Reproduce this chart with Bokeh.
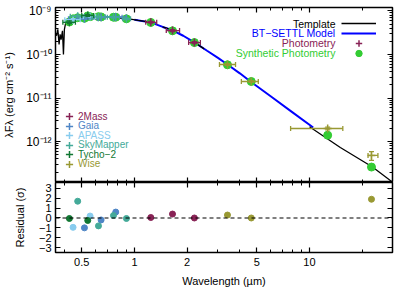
from bokeh.plotting import figure
from bokeh.models import (ColumnDataSource, Whisker, TeeHead, Span, Label, Legend,
                          LegendItem, FixedTicker, LogAxis, LinearAxis,
                          CustomJSTickFormatter, Range1d)
from bokeh.layouts import column
from bokeh.embed import file_html
from bokeh.resources import INLINE

FONT = "Liberation Sans"
nan = float("nan")

# ---------------- data ----------------
template_wl = [0.355, 0.359, 0.365, 0.371, 0.376, 0.381, 0.388, 0.393, 0.398, 0.405,
               0.42, 0.45, 0.50, 0.55, 0.60, 0.65, 0.70, 0.75, 0.80, 0.85, 0.87, 0.89,
               0.95, 1.05, 1.15, 1.25, 1.30, nan, 1.45, 1.55, 1.65, 1.75, nan,
               2.1, 2.2, 2.35, 2.5, nan, 10.0, 15.0, 22.9, 30.0]
template_flux = [3.0e-10, 2.7e-10, 3.8e-10, 1.7e-10, 2.9e-10, 2.2e-10, 3.5e-10, 1.0e-10, 3.8e-10, 5.4e-10,
                 5.8e-10, 6.5e-10, 7.0e-10, 7.3e-10, 7.4e-10, 7.4e-10, 7.3e-10, 7.2e-10, 7.0e-10, 6.8e-10, 5.8e-10, 6.7e-10,
                 6.5e-10, 6.1e-10, 5.8e-10, 5.4e-10, 5.1e-10, nan, 4.3e-10, 3.95e-10, 3.6e-10, 3.2e-10, nan,
                 2.1e-10, 1.9e-10, 1.6e-10, 1.35e-10, nan, 2.2e-12, 7.3e-13, 2.6e-13, 1.15e-13]

model_wl = [1.0, 1.25, 1.45, 1.65, 1.9, 2.2, 2.6, 3.0, 3.4, 4.0, 4.6, 6.0, 8.0, 10.5]
model_flux = [6.3e-10, 5.4e-10, 4.3e-10, 3.6e-10, 2.7e-10, 1.9e-10, 1.22e-10, 8.4e-11,
              5.9e-11, 3.7e-11, 2.4e-11, 1.1e-11, 4.7e-12, 2.1e-12]

survey_names = ["2Mass", "Gaia", "APASS", "SkyMapper", "Tycho\u22122", "Wise"]
survey_colors = ["#882255", "#4f86c6", "#88ccee", "#44aa99", "#117733", "#999933"]

tmass_wl = [1.24, 1.65, 2.2]
tmass_lo = [1.16, 1.52, 2.04]
tmass_hi = [1.34, 1.81, 2.38]
tmass_flux = [5.5e-10, 3.55e-10, 1.88e-10]
tmass_ferr = [0.25e-10, 0.17e-10, 0.09e-10]
tmass_synth = [5.45e-10, 3.5e-10, 1.88e-10]
tmass_res = [0.05, 0.4, 0.0]

gaia_wl = [0.518, 0.645, 0.782]
gaia_lo = [0.42, 0.47, 0.68]
gaia_hi = [0.62, 0.85, 0.90]
gaia_flux = [6.6e-10, 7.2e-10, 7.3e-10]
gaia_ferr = [0.15e-10, 0.15e-10, 0.15e-10]
gaia_synth = [6.8e-10, 7.3e-10, 7.2e-10]
gaia_res = [-1.0, -0.2, 0.6]

apass_wl = [0.446, 0.558]
apass_lo = [0.40, 0.51]
apass_hi = [0.49, 0.60]
apass_flux = [6.3e-10, 7.5e-10]
apass_ferr = [0.4e-10, 0.3e-10]
apass_synth = [6.6e-10, 7.4e-10]
apass_res = [-0.95, 0.2]

sky_wl = [0.474, 0.623, 0.759, 0.90]
sky_lo = [0.43, 0.57, 0.70, 0.86]
sky_hi = [0.52, 0.68, 0.82, 0.95]
sky_flux = [7.6e-10, 7.3e-10, 7.2e-10, 6.6e-10]
sky_ferr = [0.3e-10, 0.3e-10, 0.3e-10, 0.3e-10]
sky_synth = [7.0e-10, 7.4e-10, 7.2e-10, 6.6e-10]
sky_res = [1.7, -0.8, 0.25, -0.05]

tycho_wl = [0.425, 0.541]
tycho_lo = [0.39, 0.50]
tycho_hi = [0.46, 0.585]
tycho_flux = [5.5e-10, 7.9e-10]
tycho_ferr = [0.4e-10, 0.4e-10]
tycho_synth = [5.6e-10, 7.7e-10]
tycho_res = [-0.05, -0.25]

wise_wl = [3.4, 4.65, 12.7, 22.6]
wise_lo = [3.06, 4.08, 7.8, 21.6]
wise_hi = [3.78, 5.1, 15.5, 24.6]
wise_flux = [5.9e-11, 2.4e-11, 2.0e-12, 4.8e-13]
wise_ferr = [2.5e-12, 1.0e-12, 0.15e-12, 1.1e-13]
wise_synth = [5.8e-11, 2.4e-11, 1.4e-12, 2.6e-13]
wise_res = [0.3, 0.0, nan, 1.9]

x_major = [0.5, 1, 2, 5, 10]
x_minor = [0.4, 0.6, 0.7, 0.8, 0.9, 3, 4, 6, 7, 8, 9, 20, 30]
y_major = [1e-13, 1e-12, 1e-11, 1e-10, 1e-9]
y_minor = [k * 10.0 ** e for e in range(-13, -9) for k in range(2, 10)]
res_ticks = [-3, -2, -1, 0, 1, 2, 3]

surveys = [
    (tmass_wl, tmass_lo, tmass_hi, tmass_flux, tmass_ferr, tmass_synth, tmass_res),
    (gaia_wl, gaia_lo, gaia_hi, gaia_flux, gaia_ferr, gaia_synth, gaia_res),
    (apass_wl, apass_lo, apass_hi, apass_flux, apass_ferr, apass_synth, apass_res),
    (sky_wl, sky_lo, sky_hi, sky_flux, sky_ferr, sky_synth, sky_res),
    (tycho_wl, tycho_lo, tycho_hi, tycho_flux, tycho_ferr, tycho_synth, tycho_res),
    (wise_wl, wise_lo, wise_hi, wise_flux, wise_ferr, wise_synth, wise_res),
]

GREEN = "#33cc33"
BLUE = "#0000ff"

SUP_JS = """
const s = {'-':'\u207b','0':'\u2070','1':'\u00b9','2':'\u00b2','3':'\u00b3','4':'\u2074',
           '5':'\u2075','6':'\u2076','7':'\u2077','8':'\u2078','9':'\u2079'};
const e = Math.round(Math.log10(tick));
return '10' + String(e).split('').map(c => s[c]).join('');
"""


def style_axis(ax, labels=True):
    ax.major_tick_in = 5
    ax.major_tick_out = 0
    ax.minor_tick_in = 3
    ax.minor_tick_out = 0
    ax.axis_line_color = None
    ax.major_tick_line_color = "black"
    ax.minor_tick_line_color = "black"
    ax.major_tick_line_width = 1.2
    ax.minor_tick_line_width = 1.0
    ax.major_label_text_font = FONT
    ax.major_label_text_color = "black"
    ax.axis_label_text_font = FONT
    ax.axis_label_text_font_style = "normal"
    ax.axis_label_text_font_size = "11px"
    ax.axis_label_text_color = "black"
    if labels:
        ax.major_label_text_font_size = "11px"
        ax.major_label_standoff = 4
    else:
        ax.formatter = CustomJSTickFormatter(code="return '';")
        ax.major_label_text_font_size = "0px"
        ax.major_label_standoff = 0


def glyph_legend(label, renderer, x, yc, gw, gh, color, standoff, size="10px"):
    return Legend(items=[LegendItem(label=label, renderers=[renderer])],
                  location=(x, yc - gh / 2.0),
                  label_text_color=color, label_text_font=FONT, label_text_font_size=size,
                  glyph_width=gw, glyph_height=gh, label_height=gh, label_standoff=standoff,
                  padding=0, margin=0, spacing=0, border_line_color=None,
                  background_fill_alpha=0, label_text_baseline="middle")


XR = (0.354, 29.8)
LEFT = 55

# ---------------- top panel ----------------
p = figure(x_axis_type="log", y_axis_type="log",
           x_range=Range1d(*XR), y_range=Range1d(10 ** -12.94, 10 ** -8.92),
           frame_width=337, frame_height=175,
           min_border_left=LEFT, min_border_right=5, min_border_top=7, min_border_bottom=0,
           output_backend="svg", toolbar_location=None)
p.grid.visible = False
p.outline_line_color = "black"
p.outline_line_width = 1.5

xt = FixedTicker(ticks=x_major, minor_ticks=x_minor)
yt = FixedTicker(ticks=y_major, minor_ticks=y_minor)

p.xaxis[0].ticker = xt
style_axis(p.xaxis[0], labels=False)
p.yaxis[0].ticker = yt
p.yaxis[0].formatter = CustomJSTickFormatter(code=SUP_JS)
style_axis(p.yaxis[0])
p.yaxis[0].major_label_text_font_size = "12px"
p.yaxis[0].axis_label = "\u03bbF\u03bb (erg cm\u207b\u00b2 s\u207b\u00b9)"
p.yaxis[0].axis_label_standoff = 8

ax_top = LogAxis(ticker=xt)
style_axis(ax_top, labels=False)
p.add_layout(ax_top, "above")
ax_right = LogAxis(ticker=yt)
style_axis(ax_right, labels=False)
p.add_layout(ax_right, "right")

model_r = p.line(model_wl, model_flux, line_color=BLUE, line_width=2)
template_r = p.line(template_wl, template_flux, line_color="black", line_width=1.3)

synth_rs = []
cross_rs = []
for (wl, lo, hi, fl, fe, sy, rs), col in zip(surveys, survey_colors):
    r = p.scatter(wl, sy, size=8, color=GREEN, line_color=GREEN)
    synth_rs.append(r)
for (wl, lo, hi, fl, fe, sy, rs), col in zip(surveys, survey_colors):
    src = ColumnDataSource(dict(x=wl, lo=lo, hi=hi, f=fl,
                                flo=[a - b for a, b in zip(fl, fe)],
                                fhi=[a + b for a, b in zip(fl, fe)]))
    wx = Whisker(source=src, base="f", lower="lo", upper="hi", dimension="width",
                 line_color=col, line_width=1.3, level="annotation",
                 upper_head=TeeHead(size=5, line_color=col, line_width=1.3),
                 lower_head=TeeHead(size=5, line_color=col, line_width=1.3))
    wy = Whisker(source=src, base="x", lower="flo", upper="fhi", dimension="height",
                 line_color=col, line_width=1.3, level="annotation",
                 upper_head=TeeHead(size=5, line_color=col, line_width=1.3),
                 lower_head=TeeHead(size=5, line_color=col, line_width=1.3))
    p.add_layout(wx)
    p.add_layout(wy)
    cr = p.scatter("x", "f", source=src, marker="cross", size=8, line_color=col, line_width=1.5)
    cross_rs.append(cr)

# bottom-left legends (one per survey, coloured labels)
row_c = [66, 56.5, 47, 37.5, 28, 18.5]
for name, col, cr, yc in zip(survey_names, survey_colors, cross_rs, row_c):
    p.add_layout(glyph_legend(name, cr, 5, yc, 18, 18, col, 0))

# top-right legend: texts right-aligned, samples to the right
leg_texts = ["Template", "BT\u2212SETTL Model", "Photometry", "Synthetic Photometry"]
leg_cols = ["black", BLUE, survey_colors[0], GREEN]
leg_c = [159, 149.3, 139.3, 129.3]
leg_rs = [template_r, model_r, cross_rs[0], synth_rs[0]]
for t, c, yc, r in zip(leg_texts, leg_cols, leg_c, leg_rs):
    p.add_layout(Label(x=280, y=yc, x_units="screen", y_units="screen", text=t,
                       text_align="right", text_baseline="middle", text_color=c,
                       text_font=FONT, text_font_size="10.5px"))
    p.add_layout(glyph_legend(" ", r, 286, yc, 35, 16, c, 0))

# ---------------- residual panel ----------------
q = figure(x_axis_type="log", x_range=p.x_range, y_range=Range1d(-3.5, 3.6),
           frame_width=337, frame_height=70,
           min_border_left=LEFT, min_border_right=5, min_border_top=0, min_border_bottom=0,
           output_backend="svg", toolbar_location=None)
q.grid.visible = False
q.outline_line_color = "black"
q.outline_line_width = 1.5

q.xaxis[0].ticker = xt
q.xaxis[0].formatter = CustomJSTickFormatter(code="return String(tick);")
style_axis(q.xaxis[0])
q.xaxis[0].major_label_standoff = 5
q.xaxis[0].axis_label = "Wavelength (\u00b5m)"
q.xaxis[0].axis_label_standoff = 6

rt = FixedTicker(ticks=res_ticks, minor_ticks=[])
q.yaxis[0].ticker = rt
q.yaxis[0].formatter = CustomJSTickFormatter(
    code="return tick < 0 ? '\u2212' + Math.abs(tick) : String(tick);")
style_axis(q.yaxis[0])
q.yaxis[0].axis_label = "Residual (\u03c3)"
q.yaxis[0].axis_label_standoff = 10

qa = LogAxis(ticker=xt)
style_axis(qa, labels=False)
q.add_layout(qa, "above")
qr = LinearAxis(ticker=rt)
style_axis(qr, labels=False)
q.add_layout(qr, "right")

q.add_layout(Span(location=0, dimension="width", line_color="black",
                  line_width=1.2, line_dash="4 3"))
for (wl, lo, hi, fl, fe, sy, rs), col in zip(surveys, survey_colors):
    q.scatter(wl, rs, size=6, color=col, line_color=col)

layout = column(p, q, spacing=0)
open("out.html", "w").write(file_html(layout, INLINE))
